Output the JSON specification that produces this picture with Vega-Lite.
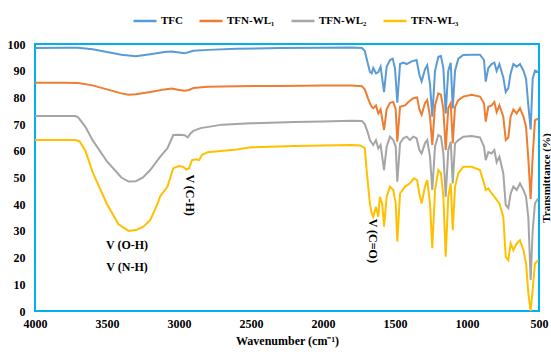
{
"$schema":"https://vega.github.io/schema/vega-lite/v6.json",
"width":504,"height":267,
"autosize":{"type":"none"},
"padding":{"left":35,"top":44,"right":12,"bottom":41},
"config":{"view":{"stroke":"#00B0F0","strokeWidth":2},"font":"Liberation Serif"},
"datasets":{
"spectra":[
{"series":"TFC","wn":4000,"T":98.5},{"series":"TFC","wn":3800,"T":98.6},{"series":"TFC","wn":3700,"T":98.6},{"series":"TFC","wn":3600,"T":98},{"series":"TFC","wn":3500,"T":97},{"series":"TFC","wn":3400,"T":96},{"series":"TFC","wn":3300,"T":95.4},{"series":"TFC","wn":3200,"T":96.2},{"series":"TFC","wn":3100,"T":97},{"series":"TFC","wn":3050,"T":97.2},{"series":"TFC","wn":3000,"T":96.8},{"series":"TFC","wn":2960,"T":96.5},{"series":"TFC","wn":2930,"T":97},{"series":"TFC","wn":2900,"T":97.5},{"series":"TFC","wn":2800,"T":97.8},{"series":"TFC","wn":2600,"T":98.2},{"series":"TFC","wn":2300,"T":98.5},{"series":"TFC","wn":2000,"T":98.6},{"series":"TFC","wn":1800,"T":98.7},{"series":"TFC","wn":1730,"T":98.5},{"series":"TFC","wn":1710,"T":97.5},{"series":"TFC","wn":1690,"T":93},{"series":"TFC","wn":1674,"T":89.5},{"series":"TFC","wn":1662,"T":89},{"series":"TFC","wn":1651,"T":91},{"series":"TFC","wn":1632,"T":89},{"series":"TFC","wn":1616,"T":89.5},{"series":"TFC","wn":1600,"T":91.5},{"series":"TFC","wn":1576,"T":82},{"series":"TFC","wn":1558,"T":91.5},{"series":"TFC","wn":1535,"T":94},{"series":"TFC","wn":1516,"T":94.5},{"series":"TFC","wn":1500,"T":91},{"series":"TFC","wn":1484,"T":78},{"series":"TFC","wn":1465,"T":92.5},{"series":"TFC","wn":1442,"T":93},{"series":"TFC","wn":1419,"T":92.5},{"series":"TFC","wn":1384,"T":93.5},{"series":"TFC","wn":1350,"T":94},{"series":"TFC","wn":1331,"T":88.5},{"series":"TFC","wn":1315,"T":86},{"series":"TFC","wn":1292,"T":90.5},{"series":"TFC","wn":1276,"T":92},{"series":"TFC","wn":1257,"T":85},{"series":"TFC","wn":1241,"T":72.8},{"series":"TFC","wn":1222,"T":89.9},{"series":"TFC","wn":1199,"T":95.2},{"series":"TFC","wn":1181,"T":95.5},{"series":"TFC","wn":1164,"T":91},{"series":"TFC","wn":1148,"T":74},{"series":"TFC","wn":1130,"T":90},{"series":"TFC","wn":1113,"T":93},{"series":"TFC","wn":1099,"T":75.9},{"series":"TFC","wn":1083,"T":90},{"series":"TFC","wn":1060,"T":94.5},{"series":"TFC","wn":1026,"T":95.9},{"series":"TFC","wn":968,"T":96},{"series":"TFC","wn":910,"T":96},{"series":"TFC","wn":882,"T":94},{"series":"TFC","wn":870,"T":85.9},{"series":"TFC","wn":852,"T":91},{"series":"TFC","wn":829,"T":92.5},{"series":"TFC","wn":810,"T":93},{"series":"TFC","wn":794,"T":89.9},{"series":"TFC","wn":775,"T":92.5},{"series":"TFC","wn":748,"T":87.5},{"series":"TFC","wn":731,"T":82},{"series":"TFC","wn":713,"T":83.5},{"series":"TFC","wn":697,"T":89},{"series":"TFC","wn":678,"T":92.5},{"series":"TFC","wn":655,"T":91.5},{"series":"TFC","wn":632,"T":92.5},{"series":"TFC","wn":608,"T":90},{"series":"TFC","wn":590,"T":87},{"series":"TFC","wn":574,"T":77},{"series":"TFC","wn":558,"T":68},{"series":"TFC","wn":544,"T":87},{"series":"TFC","wn":528,"T":90},{"series":"TFC","wn":505,"T":89.5},
{"series":"TFN-WL₁","wn":4000,"T":85.5},{"series":"TFN-WL₁","wn":3800,"T":85.5},{"series":"TFN-WL₁","wn":3700,"T":85.4},{"series":"TFN-WL₁","wn":3600,"T":84.5},{"series":"TFN-WL₁","wn":3500,"T":83},{"series":"TFN-WL₁","wn":3400,"T":81.5},{"series":"TFN-WL₁","wn":3350,"T":81},{"series":"TFN-WL₁","wn":3300,"T":81.2},{"series":"TFN-WL₁","wn":3200,"T":82},{"series":"TFN-WL₁","wn":3100,"T":83},{"series":"TFN-WL₁","wn":3050,"T":83.3},{"series":"TFN-WL₁","wn":3000,"T":82.8},{"series":"TFN-WL₁","wn":2960,"T":82.5},{"series":"TFN-WL₁","wn":2930,"T":82.8},{"series":"TFN-WL₁","wn":2900,"T":83.5},{"series":"TFN-WL₁","wn":2800,"T":84},{"series":"TFN-WL₁","wn":2600,"T":84.2},{"series":"TFN-WL₁","wn":2300,"T":84.3},{"series":"TFN-WL₁","wn":2000,"T":84.5},{"series":"TFN-WL₁","wn":1800,"T":84.5},{"series":"TFN-WL₁","wn":1730,"T":84.2},{"series":"TFN-WL₁","wn":1710,"T":83},{"series":"TFN-WL₁","wn":1690,"T":80},{"series":"TFN-WL₁","wn":1674,"T":77.8},{"series":"TFN-WL₁","wn":1662,"T":76.5},{"series":"TFN-WL₁","wn":1651,"T":75.9},{"series":"TFN-WL₁","wn":1632,"T":77},{"series":"TFN-WL₁","wn":1616,"T":74},{"series":"TFN-WL₁","wn":1600,"T":75.5},{"series":"TFN-WL₁","wn":1576,"T":67.8},{"series":"TFN-WL₁","wn":1558,"T":75.5},{"series":"TFN-WL₁","wn":1535,"T":78},{"series":"TFN-WL₁","wn":1512,"T":78.3},{"series":"TFN-WL₁","wn":1495,"T":75.5},{"series":"TFN-WL₁","wn":1484,"T":63.4},{"series":"TFN-WL₁","wn":1465,"T":76.5},{"series":"TFN-WL₁","wn":1430,"T":77},{"series":"TFN-WL₁","wn":1407,"T":78.3},{"series":"TFN-WL₁","wn":1373,"T":79.7},{"series":"TFN-WL₁","wn":1346,"T":80},{"series":"TFN-WL₁","wn":1331,"T":75.5},{"series":"TFN-WL₁","wn":1315,"T":73.5},{"series":"TFN-WL₁","wn":1292,"T":77.8},{"series":"TFN-WL₁","wn":1276,"T":79},{"series":"TFN-WL₁","wn":1257,"T":72.8},{"series":"TFN-WL₁","wn":1241,"T":62.2},{"series":"TFN-WL₁","wn":1222,"T":77},{"series":"TFN-WL₁","wn":1199,"T":81.5},{"series":"TFN-WL₁","wn":1181,"T":81},{"series":"TFN-WL₁","wn":1164,"T":75.5},{"series":"TFN-WL₁","wn":1148,"T":60.3},{"series":"TFN-WL₁","wn":1130,"T":76},{"series":"TFN-WL₁","wn":1113,"T":77.8},{"series":"TFN-WL₁","wn":1099,"T":62.8},{"series":"TFN-WL₁","wn":1083,"T":76.5},{"series":"TFN-WL₁","wn":1060,"T":79},{"series":"TFN-WL₁","wn":1026,"T":80.3},{"series":"TFN-WL₁","wn":968,"T":81},{"series":"TFN-WL₁","wn":910,"T":80.3},{"series":"TFN-WL₁","wn":882,"T":77.8},{"series":"TFN-WL₁","wn":870,"T":70.9},{"series":"TFN-WL₁","wn":852,"T":76.5},{"series":"TFN-WL₁","wn":829,"T":77},{"series":"TFN-WL₁","wn":810,"T":78.3},{"series":"TFN-WL₁","wn":794,"T":74.5},{"series":"TFN-WL₁","wn":775,"T":77},{"series":"TFN-WL₁","wn":748,"T":72.8},{"series":"TFN-WL₁","wn":731,"T":64},{"series":"TFN-WL₁","wn":713,"T":65},{"series":"TFN-WL₁","wn":697,"T":72.8},{"series":"TFN-WL₁","wn":678,"T":75.5},{"series":"TFN-WL₁","wn":655,"T":74},{"series":"TFN-WL₁","wn":632,"T":76},{"series":"TFN-WL₁","wn":608,"T":72.8},{"series":"TFN-WL₁","wn":590,"T":69},{"series":"TFN-WL₁","wn":574,"T":57},{"series":"TFN-WL₁","wn":558,"T":42},{"series":"TFN-WL₁","wn":544,"T":57.8},{"series":"TFN-WL₁","wn":528,"T":71.5},{"series":"TFN-WL₁","wn":505,"T":72},
{"series":"TFN-WL₂","wn":4000,"T":73},{"series":"TFN-WL₂","wn":3800,"T":73},{"series":"TFN-WL₂","wn":3720,"T":73},{"series":"TFN-WL₂","wn":3700,"T":72.5},{"series":"TFN-WL₂","wn":3650,"T":69},{"series":"TFN-WL₂","wn":3600,"T":64},{"series":"TFN-WL₂","wn":3500,"T":56},{"series":"TFN-WL₂","wn":3400,"T":50},{"series":"TFN-WL₂","wn":3350,"T":48.5},{"series":"TFN-WL₂","wn":3300,"T":48.6},{"series":"TFN-WL₂","wn":3250,"T":50},{"series":"TFN-WL₂","wn":3200,"T":52.8},{"series":"TFN-WL₂","wn":3130,"T":57.8},{"series":"TFN-WL₂","wn":3080,"T":61},{"series":"TFN-WL₂","wn":3040,"T":65.9},{"series":"TFN-WL₂","wn":3000,"T":66},{"series":"TFN-WL₂","wn":2960,"T":65.8},{"series":"TFN-WL₂","wn":2940,"T":65},{"series":"TFN-WL₂","wn":2920,"T":66.5},{"series":"TFN-WL₂","wn":2900,"T":67.5},{"series":"TFN-WL₂","wn":2850,"T":68.5},{"series":"TFN-WL₂","wn":2700,"T":69.8},{"series":"TFN-WL₂","wn":2500,"T":70.3},{"series":"TFN-WL₂","wn":2200,"T":70.8},{"series":"TFN-WL₂","wn":2000,"T":71},{"series":"TFN-WL₂","wn":1800,"T":71.3},{"series":"TFN-WL₂","wn":1730,"T":71.2},{"series":"TFN-WL₂","wn":1710,"T":70},{"series":"TFN-WL₂","wn":1690,"T":67},{"series":"TFN-WL₂","wn":1674,"T":64},{"series":"TFN-WL₂","wn":1662,"T":63},{"series":"TFN-WL₂","wn":1651,"T":62.2},{"series":"TFN-WL₂","wn":1632,"T":64},{"series":"TFN-WL₂","wn":1616,"T":60.9},{"series":"TFN-WL₂","wn":1600,"T":62.2},{"series":"TFN-WL₂","wn":1576,"T":52.8},{"series":"TFN-WL₂","wn":1558,"T":61.6},{"series":"TFN-WL₂","wn":1535,"T":65.3},{"series":"TFN-WL₂","wn":1512,"T":64},{"series":"TFN-WL₂","wn":1495,"T":61.6},{"series":"TFN-WL₂","wn":1484,"T":48.4},{"series":"TFN-WL₂","wn":1465,"T":62.8},{"series":"TFN-WL₂","wn":1442,"T":64.7},{"series":"TFN-WL₂","wn":1419,"T":65.3},{"series":"TFN-WL₂","wn":1396,"T":64},{"series":"TFN-WL₂","wn":1373,"T":65.3},{"series":"TFN-WL₂","wn":1350,"T":64.7},{"series":"TFN-WL₂","wn":1331,"T":60.3},{"series":"TFN-WL₂","wn":1315,"T":59},{"series":"TFN-WL₂","wn":1292,"T":62.8},{"series":"TFN-WL₂","wn":1276,"T":64},{"series":"TFN-WL₂","wn":1257,"T":57.8},{"series":"TFN-WL₂","wn":1241,"T":45.3},{"series":"TFN-WL₂","wn":1222,"T":61.6},{"series":"TFN-WL₂","wn":1199,"T":65.9},{"series":"TFN-WL₂","wn":1181,"T":65.3},{"series":"TFN-WL₂","wn":1164,"T":59},{"series":"TFN-WL₂","wn":1148,"T":42.8},{"series":"TFN-WL₂","wn":1130,"T":60.3},{"series":"TFN-WL₂","wn":1113,"T":63.4},{"series":"TFN-WL₂","wn":1099,"T":47.8},{"series":"TFN-WL₂","wn":1083,"T":62.8},{"series":"TFN-WL₂","wn":1060,"T":64},{"series":"TFN-WL₂","wn":1026,"T":65.3},{"series":"TFN-WL₂","wn":968,"T":65.5},{"series":"TFN-WL₂","wn":910,"T":65},{"series":"TFN-WL₂","wn":882,"T":61.6},{"series":"TFN-WL₂","wn":870,"T":56.5},{"series":"TFN-WL₂","wn":852,"T":59.5},{"series":"TFN-WL₂","wn":829,"T":59},{"series":"TFN-WL₂","wn":810,"T":60.3},{"series":"TFN-WL₂","wn":794,"T":55.7},{"series":"TFN-WL₂","wn":775,"T":57.8},{"series":"TFN-WL₂","wn":748,"T":51.6},{"series":"TFN-WL₂","wn":731,"T":39.7},{"series":"TFN-WL₂","wn":713,"T":38.5},{"series":"TFN-WL₂","wn":697,"T":44},{"series":"TFN-WL₂","wn":678,"T":46.6},{"series":"TFN-WL₂","wn":655,"T":45.3},{"series":"TFN-WL₂","wn":632,"T":47.8},{"series":"TFN-WL₂","wn":608,"T":45.3},{"series":"TFN-WL₂","wn":590,"T":42.8},{"series":"TFN-WL₂","wn":574,"T":35},{"series":"TFN-WL₂","wn":558,"T":11.6},{"series":"TFN-WL₂","wn":544,"T":30},{"series":"TFN-WL₂","wn":528,"T":40.3},{"series":"TFN-WL₂","wn":505,"T":42.2},
{"series":"TFN-WL₃","wn":4000,"T":64},{"series":"TFN-WL₃","wn":3800,"T":64},{"series":"TFN-WL₃","wn":3720,"T":64},{"series":"TFN-WL₃","wn":3690,"T":63.5},{"series":"TFN-WL₃","wn":3650,"T":60},{"series":"TFN-WL₃","wn":3600,"T":52},{"series":"TFN-WL₃","wn":3500,"T":40},{"series":"TFN-WL₃","wn":3420,"T":32.5},{"series":"TFN-WL₃","wn":3350,"T":30},{"series":"TFN-WL₃","wn":3300,"T":30.3},{"series":"TFN-WL₃","wn":3250,"T":31.5},{"series":"TFN-WL₃","wn":3200,"T":34},{"series":"TFN-WL₃","wn":3150,"T":40},{"series":"TFN-WL₃","wn":3130,"T":43},{"series":"TFN-WL₃","wn":3080,"T":46.6},{"series":"TFN-WL₃","wn":3040,"T":53.5},{"series":"TFN-WL₃","wn":3000,"T":54.3},{"series":"TFN-WL₃","wn":2970,"T":54},{"series":"TFN-WL₃","wn":2950,"T":53},{"series":"TFN-WL₃","wn":2930,"T":53.5},{"series":"TFN-WL₃","wn":2910,"T":56.5},{"series":"TFN-WL₃","wn":2880,"T":56.8},{"series":"TFN-WL₃","wn":2860,"T":56.5},{"series":"TFN-WL₃","wn":2840,"T":58.5},{"series":"TFN-WL₃","wn":2800,"T":59.5},{"series":"TFN-WL₃","wn":2600,"T":60.5},{"series":"TFN-WL₃","wn":2500,"T":61.3},{"series":"TFN-WL₃","wn":2200,"T":61.8},{"series":"TFN-WL₃","wn":2000,"T":62},{"series":"TFN-WL₃","wn":1800,"T":62.2},{"series":"TFN-WL₃","wn":1740,"T":62},{"series":"TFN-WL₃","wn":1710,"T":61},{"series":"TFN-WL₃","wn":1697,"T":52.8},{"series":"TFN-WL₃","wn":1674,"T":40},{"series":"TFN-WL₃","wn":1662,"T":36.6},{"series":"TFN-WL₃","wn":1651,"T":35.3},{"series":"TFN-WL₃","wn":1632,"T":39},{"series":"TFN-WL₃","wn":1616,"T":35.3},{"series":"TFN-WL₃","wn":1605,"T":42.8},{"series":"TFN-WL₃","wn":1589,"T":40.3},{"series":"TFN-WL₃","wn":1576,"T":31.6},{"series":"TFN-WL₃","wn":1558,"T":42.8},{"series":"TFN-WL₃","wn":1535,"T":46.6},{"series":"TFN-WL₃","wn":1512,"T":45.3},{"series":"TFN-WL₃","wn":1495,"T":40.3},{"series":"TFN-WL₃","wn":1484,"T":26},{"series":"TFN-WL₃","wn":1465,"T":44},{"series":"TFN-WL₃","wn":1430,"T":46.6},{"series":"TFN-WL₃","wn":1396,"T":47.8},{"series":"TFN-WL₃","wn":1369,"T":49.7},{"series":"TFN-WL₃","wn":1346,"T":49},{"series":"TFN-WL₃","wn":1331,"T":44},{"series":"TFN-WL₃","wn":1315,"T":40.3},{"series":"TFN-WL₃","wn":1292,"T":46.6},{"series":"TFN-WL₃","wn":1276,"T":49},{"series":"TFN-WL₃","wn":1257,"T":40.3},{"series":"TFN-WL₃","wn":1241,"T":23.5},{"series":"TFN-WL₃","wn":1222,"T":45.3},{"series":"TFN-WL₃","wn":1199,"T":52.8},{"series":"TFN-WL₃","wn":1181,"T":51.6},{"series":"TFN-WL₃","wn":1164,"T":42.8},{"series":"TFN-WL₃","wn":1148,"T":20.3},{"series":"TFN-WL₃","wn":1130,"T":42.8},{"series":"TFN-WL₃","wn":1113,"T":47.8},{"series":"TFN-WL₃","wn":1099,"T":30.3},{"series":"TFN-WL₃","wn":1083,"T":46.6},{"series":"TFN-WL₃","wn":1060,"T":51.6},{"series":"TFN-WL₃","wn":1026,"T":54},{"series":"TFN-WL₃","wn":968,"T":54},{"series":"TFN-WL₃","wn":910,"T":52.8},{"series":"TFN-WL₃","wn":882,"T":47.8},{"series":"TFN-WL₃","wn":870,"T":45.3},{"series":"TFN-WL₃","wn":852,"T":45.9},{"series":"TFN-WL₃","wn":829,"T":44},{"series":"TFN-WL₃","wn":810,"T":42.8},{"series":"TFN-WL₃","wn":794,"T":41.6},{"series":"TFN-WL₃","wn":775,"T":40.3},{"series":"TFN-WL₃","wn":748,"T":35.3},{"series":"TFN-WL₃","wn":731,"T":20.3},{"series":"TFN-WL₃","wn":713,"T":19},{"series":"TFN-WL₃","wn":697,"T":25.3},{"series":"TFN-WL₃","wn":678,"T":22.8},{"series":"TFN-WL₃","wn":655,"T":25.3},{"series":"TFN-WL₃","wn":632,"T":26.5},{"series":"TFN-WL₃","wn":608,"T":22.8},{"series":"TFN-WL₃","wn":590,"T":17.8},{"series":"TFN-WL₃","wn":574,"T":6.6},{"series":"TFN-WL₃","wn":558,"T":0},{"series":"TFN-WL₃","wn":544,"T":8},{"series":"TFN-WL₃","wn":528,"T":17.8},{"series":"TFN-WL₃","wn":505,"T":19}
],
"flatLabels":[{"label":"V (O-H)","wn":3361,"T":24.7},{"label":"V (N-H)","wn":3361,"T":16.5}],
"rotLabels":[{"label":"V (C-H)","wn":2924,"T":43.4},{"label":"V (C=O)","wn":1651,"T":26.3}]
},
"layer":[
{"data":{"name":"spectra"},
 "mark":{"type":"line","strokeWidth":2,"clip":true},
 "encoding":{
  "x":{"field":"wn","type":"quantitative","scale":{"domain":[500,4000],"reverse":true,"nice":false,"zero":false},
       "axis":{"values":[4000,3500,3000,2500,2000,1500,1000,500],"format":"d","title":"Wavenumber  (cm⁻¹)","domain":false,"ticks":false,"grid":false,"labelFont":"Liberation Serif","labelFontWeight":"bold","labelFontSize":12,"labelColor":"#000","labelPadding":7,"labelFlush":false,"titleFont":"Liberation Serif","titleFontWeight":"bold","titleFontSize":12,"titleColor":"#000","titlePadding":6}},
  "y":{"field":"T","type":"quantitative","scale":{"domain":[0,100],"nice":false},
       "axis":{"values":[0,10,20,30,40,50,60,70,80,90,100],"title":null,"domain":false,"ticks":false,"grid":false,"labelFont":"Liberation Serif","labelFontWeight":"bold","labelFontSize":12,"labelColor":"#000","labelPadding":10,"labelFlush":false}},
  "color":{"field":"series","type":"nominal",
       "scale":{"domain":["TFC","TFN-WL₁","TFN-WL₂","TFN-WL₃"],"range":["#5B9BD5","#ED7D31","#A5A5A5","#FFC000"]},
       "legend":{"title":null,"orient":"none","direction":"horizontal","legendX":97,"legendY":-36,"symbolType":"stroke","symbolStrokeWidth":2.5,"symbolSize":529,"labelFont":"Liberation Serif","labelFontWeight":"bold","labelFontSize":11,"labelColor":"#000","labelOffset":3,"columnPadding":11}}
 }},
{"data":{"name":"flatLabels"},
 "mark":{"type":"text","font":"Liberation Serif","fontWeight":"bold","fontSize":12,"color":"#000"},
 "encoding":{
  "x":{"field":"wn","type":"quantitative","scale":{"domain":[500,4000],"reverse":true,"nice":false,"zero":false}},
  "y":{"field":"T","type":"quantitative","scale":{"domain":[0,100],"nice":false},
       "axis":{"orient":"right","title":"Transmittance  (%)","titleAngle":270,"titleBaseline":"top","labels":false,"ticks":false,"domain":false,"grid":false,"titleFont":"Liberation Serif","titleFontWeight":"bold","titleFontSize":11,"titleColor":"#000","titlePadding":1}},
  "text":{"field":"label"}
 }},
{"data":{"name":"rotLabels"},
 "mark":{"type":"text","font":"Liberation Serif","fontWeight":"bold","fontSize":12,"color":"#000","angle":90},
 "encoding":{
  "x":{"field":"wn","type":"quantitative","scale":{"domain":[500,4000],"reverse":true,"nice":false,"zero":false}},
  "y":{"field":"T","type":"quantitative","scale":{"domain":[0,100],"nice":false},"axis":null},
  "text":{"field":"label"}
 }}
],
"resolve":{"axis":{"y":"independent"}}
}
